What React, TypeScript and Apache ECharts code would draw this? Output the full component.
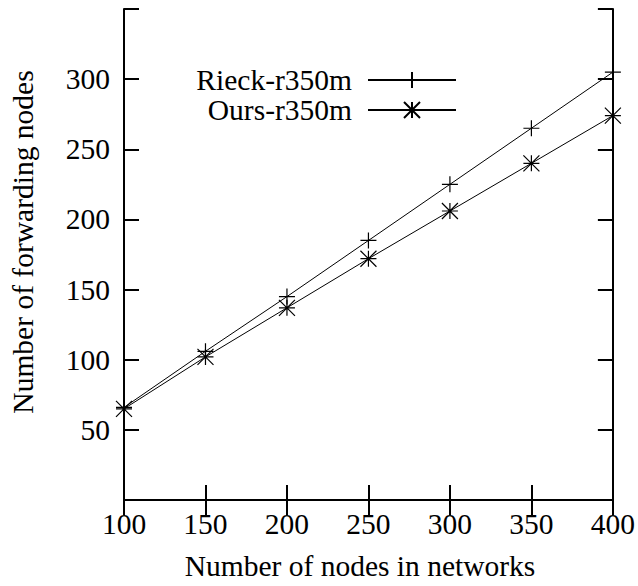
import React, { useEffect, useRef } from "react";
import * as echarts from "echarts";

const nodes = [100, 150, 200, 250, 300, 350, 400];
const rieck = [66, 106, 145, 185, 225, 265, 305];
const ours = [65, 102, 137, 172, 206, 240, 274];
const seriesNames = ["Rieck-r350m", "Ours-r350m"];
const xTitle = "Number of nodes in networks";
const yTitle = "Number of forwarding nodes";

const FONT = "'Liberation Serif', 'DejaVu Serif', serif";
const FS = 29.5;
const PLUS = "path://M0,-1L0,1M-1,0L1,0";
const STAR = "path://M0,-1L0,1M-1,0L1,0M-1,-1L1,1M-1,1L1,-1";

export default function App() {
  const ref = useRef<HTMLDivElement>(null);
  useEffect(() => {
    if (!ref.current) return;
    const chart = echarts.init(ref.current, undefined, { renderer: "svg" });
    const axisLine = { show: true, lineStyle: { color: "#000", width: 2 } };
    const axisTick = { show: true, inside: true, length: 15, lineStyle: { color: "#000", width: 2 } };
    const hideEnds = (v: number) => (v === 0 || v === 350 ? "" : String(v));
    const mk = (name: string, data: number[], symbol: string) => ({
      name,
      type: "line",
      data: nodes.map((x, i) => [x, data[i]]),
      symbol,
      symbolSize: 16,
      clip: false,
      lineStyle: { color: "#000", width: 1 },
      itemStyle: { color: "#000", borderColor: "#000", borderWidth: 1.2 },
      emphasis: { disabled: true },
    });
    chart.setOption({
      animation: false,
      backgroundColor: "#fff",
      grid: { left: 124, right: 25, top: 9, bottom: 86, containLabel: false },
      xAxis: [
        {
          type: "value", min: 100, max: 400, interval: 50, position: "bottom",
          axisLine, axisTick, splitLine: { show: false },
          axisLabel: { color: "#000", fontFamily: FONT, fontSize: FS, margin: 9 },
        },
        {
          type: "value", min: 100, max: 400, interval: 50, position: "top",
          axisLine, axisTick, splitLine: { show: false }, axisLabel: { show: false },
        },
      ],
      yAxis: [
        {
          type: "value", min: 0, max: 350, interval: 50, position: "left",
          axisLine, axisTick, splitLine: { show: false },
          axisLabel: { color: "#000", fontFamily: FONT, fontSize: FS, margin: 14, formatter: hideEnds },
        },
        {
          type: "value", min: 0, max: 350, interval: 50, position: "right",
          axisLine, axisTick, splitLine: { show: false }, axisLabel: { show: false },
        },
      ],
      legend: {
        orient: "vertical",
        right: 176,
        top: 60,
        align: "right",
        itemWidth: 88,
        itemHeight: 20,
        itemGap: 0,
        data: seriesNames,
        textStyle: { color: "#000", fontFamily: FONT, fontSize: FS, lineHeight: 28, padding: [0, 11, 0, 0] },
      },
      graphic: [
        {
          type: "text", x: 360, y: 566,
          style: { text: xTitle, fill: "#000", font: `${FS}px ${FONT}`, align: "center", verticalAlign: "middle" },
        },
        {
          type: "text", x: 23, y: 242, rotation: Math.PI / 2,
          style: { text: yTitle, fill: "#000", font: `${FS}px ${FONT}`, align: "center", verticalAlign: "middle" },
        },
      ],
      series: [mk(seriesNames[0], rieck, PLUS), mk(seriesNames[1], ours, STAR)],
    });
    return () => chart.dispose();
  }, []);
  return <div ref={ref} style={{ position: "fixed", left: 0, top: 0, width: 638, height: 586 }} />;
}
